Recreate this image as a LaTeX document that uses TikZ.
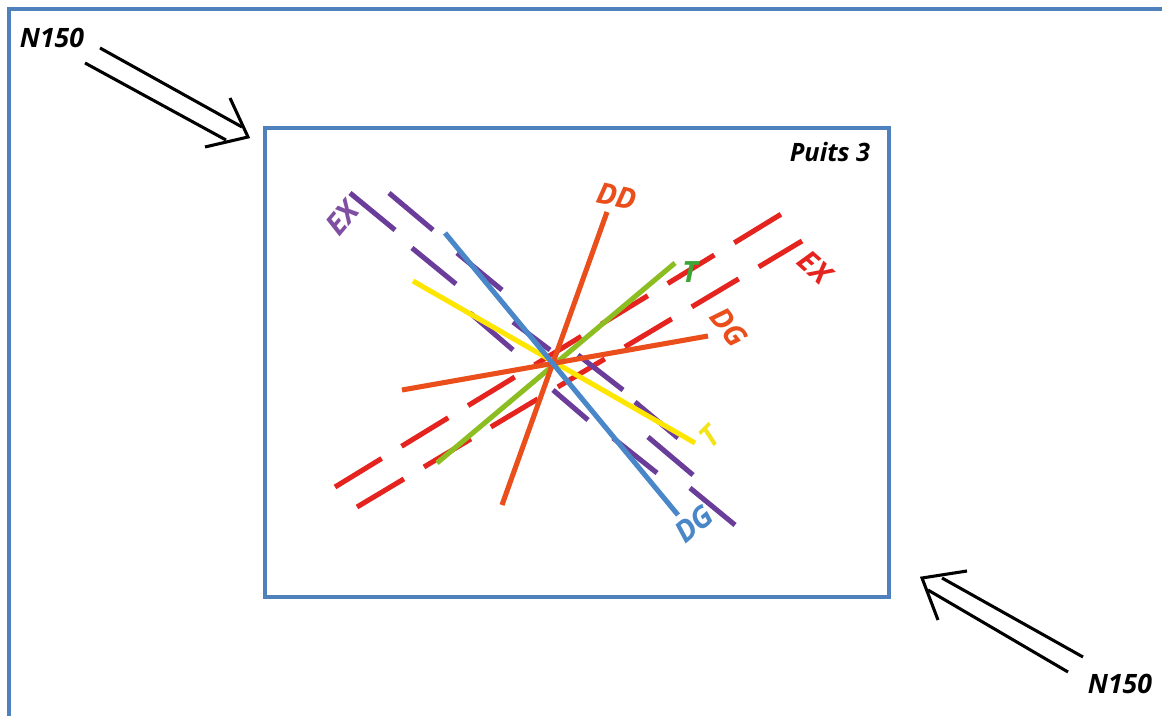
\documentclass[tikz,border=0pt]{standalone}
\usepackage{fontspec}
\setmainfont{Open Sans}
\definecolor{frameblue}{HTML}{4F81BD}
\definecolor{exviolet}{HTML}{6A3D9A}
\definecolor{exvioletlbl}{HTML}{7E4FA2}
\definecolor{exred}{HTML}{E52420}
\definecolor{ddorange}{HTML}{E94E1B}
\definecolor{tgreen}{HTML}{8CBE22}
\definecolor{tgreenlbl}{HTML}{3DA535}
\definecolor{tyellow}{HTML}{FFE600}
\definecolor{tyellowlbl}{HTML}{F2E31B}
\definecolor{dgblue}{HTML}{4A87C9}
\begin{document}
\begin{tikzpicture}[x=0.75pt,y=-0.75pt,
  framebox/.style={draw=frameblue,line width=2.3pt},
  dashred/.style={draw=exred,line width=3.8pt,dash pattern=on 41pt off 17.5pt},
  dashviolet/.style={draw=exviolet,line width=3.8pt},
  solidline/.style={line width=3.8pt},
  lbl/.style={font=\bfseries\itshape\fontsize{20}{20}\selectfont,inner sep=0pt},
  tracelbl/.style={font=\bfseries\itshape\fontsize{22}{22}\selectfont,inner sep=0pt},
  arrowline/.style={draw=black,line width=2.3pt,line join=miter},
]
\useasboundingbox (0,0) rectangle (1162,716);
\fill[white] (0,0) rectangle (1162,716);

% outer frame (open to the right and bottom)
\draw[framebox] (9,716) -- (9,9) -- (1162,9);
% well frame
\draw[framebox] (265,128) rectangle (889,597);
\node[lbl,font=\bfseries\itshape\fontsize{19}{19}\selectfont] (puits) at (830,152) {Puits 3};

% compression arrows N150
\node[lbl] (nw) at (52,38) {N150};
\node[lbl] (se) at (1120,684) {N150};

\coordinate (tipA) at (248,137);
\draw[arrowline] (100,48) -- (242,127);
\draw[arrowline] (85,63) -- (226,140);
\draw[arrowline] (230,98) -- (tipA) -- (205,147);

\coordinate (tipB) at (922,578);
\draw[arrowline] (1083,657) -- (942,578);
\draw[arrowline] (1068,672) -- (928,590);
\draw[arrowline] (967,571) -- (tipB) -- (938,620);

% EX, red family: two dashed traces
\draw[dashred] (335,487) -- (783,213);
\draw[dashred] (357,507) -- (802,241);

% EX, violet family: hand-placed dashes
\foreach \a/\b in {
  {(350,193)}/{(395,230)}, {(412,248)}/{(456,284)}, {(470,313)}/{(513,350)},
  {(389,193)}/{(433,230)}, {(457,253)}/{(502,290)}, {(513,322)}/{(550,350)},
  {(578,355)}/{(623,390)}, {(635,402)}/{(678,438)}, {(553,390)}/{(588,420)},
  {(613,438)}/{(657,473)}, {(648,437)}/{(693,475)}, {(690,488)}/{(735,525)}}
  \draw[dashviolet] \a -- \b;

% solid traces
\draw[solidline,draw=tyellow] (413,281) -- (695,443);
\draw[solidline,draw=tgreen] (437,463) -- (675,263);
\draw[solidline,draw=ddorange] (502,505) -- (607,212);
\draw[solidline,draw=ddorange] (402,390) -- (708,336);
\draw[solidline,draw=dgblue] (445,233) -- (678,515);

% trace labels
\node[tracelbl,text=exvioletlbl,rotate=50] (exv) at (342,218) {EX};
\node[tracelbl,text=exred,rotate=-42] (exr) at (815,267) {EX};
\node[tracelbl,text=ddorange,rotate=-12] (dd) at (617,196) {DD};
\node[tracelbl,text=ddorange,rotate=-52] (dgo) at (729,327) {DG};
\node[tracelbl,text=tgreenlbl] (tg) at (690,272) {T};
\node[tracelbl,text=tyellowlbl,rotate=45] (ty) at (710,437) {T};
\node[tracelbl,text=dgblue,rotate=40] (dgb) at (694,524) {DG};
\end{tikzpicture}
\end{document}
